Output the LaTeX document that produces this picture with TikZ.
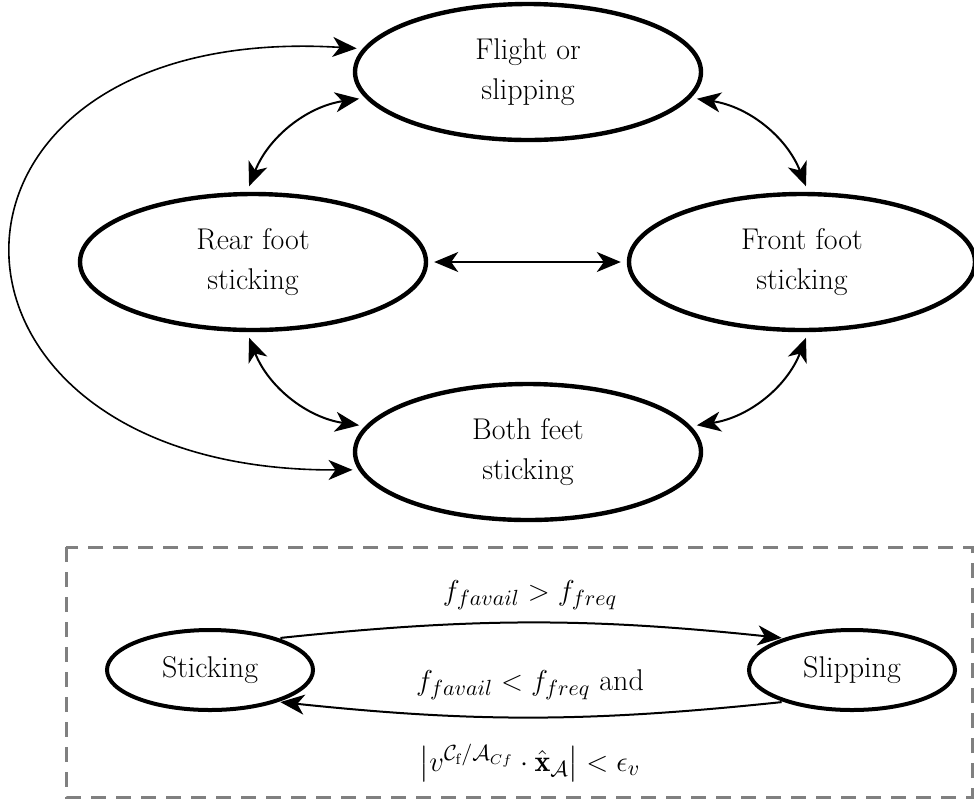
\documentclass[tikz,border=0pt]{standalone}
\usepackage{fontspec}
\usepackage{amsmath}
\usetikzlibrary{arrows.meta,shapes.geometric}
\begin{document}
\begin{tikzpicture}[x=0.5pt,y=0.5pt,
  state/.style={ellipse,draw,line width=2.2pt,align=center,inner sep=1pt,
    minimum width=173pt,minimum height=68pt,font=\fontsize{15}{20}\selectfont},
  small state/.style={ellipse,draw,line width=2pt,align=center,inner sep=1pt,
    minimum width=103pt,minimum height=40pt,font=\fontsize{15}{20}\selectfont},
  conn/.style={line width=1pt,
    arrows={Stealth[length=12pt,width=10pt,inset=3.5pt]-Stealth[length=12pt,width=10pt,inset=3.5pt]},
    shorten <=3pt,shorten >=3pt},
  oneway/.style={line width=1pt,
    arrows={-Stealth[length=12pt,width=10pt,inset=3.5pt]},
    shorten <=1pt,shorten >=1pt},
  lab/.style={font=\fontsize{15}{20}\selectfont,inner sep=0pt}
]
\useasboundingbox (0,0) rectangle (974,-805);

\node[state] (flight) at (528,-72)  {Flight or\\slipping};
\node[state] (rear)   at (253,-262) {Rear foot\\sticking};
\node[state] (front)  at (802,-262) {Front foot\\sticking};
\node[state] (both)   at (528,-452) {Both feet\\sticking};

\draw[conn] (flight.189) to[bend right=30] (rear.95);
\draw[conn] (flight.351) to[bend left=30] (front.85);
\draw[conn] (rear.east) -- (front.west);
\draw[conn] (rear.265) to[bend right=30] (both.171);
\draw[conn] (front.275) to[bend left=30] (both.9);
\draw[conn,line width=0.8pt] (flight.172) .. controls (-101,-20) and (-101,-472) .. (both.186);

% bottom legend
\draw[gray,line width=1.5pt,dash pattern=on 7.5pt off 5pt] (66,-547) rectangle (972,-797);

\node[small state] (sticking) at (210,-670) {Sticking};
\node[small state] (slipping) at (852,-670) {Slipping};

\draw[oneway] (sticking.25) to[bend left=6] (slipping.155);
\draw[oneway] (slipping.205) to[bend left=6] (sticking.335);

\node[lab] (l1) at (530,-595) {$f_{favail} > f_{freq}$};
\node[lab] (l2) at (530,-685) {$f_{favail} < f_{freq}$ and};
\node[lab] (l3) at (530,-763) {$\bigl|v^{\mathcal{C}_{\mathrm{f}}/\mathcal{A}_{Cf}}\cdot\hat{\mathbf{x}}_{\mathcal{A}}\bigr| < \epsilon_v$};
\end{tikzpicture}
\end{document}
